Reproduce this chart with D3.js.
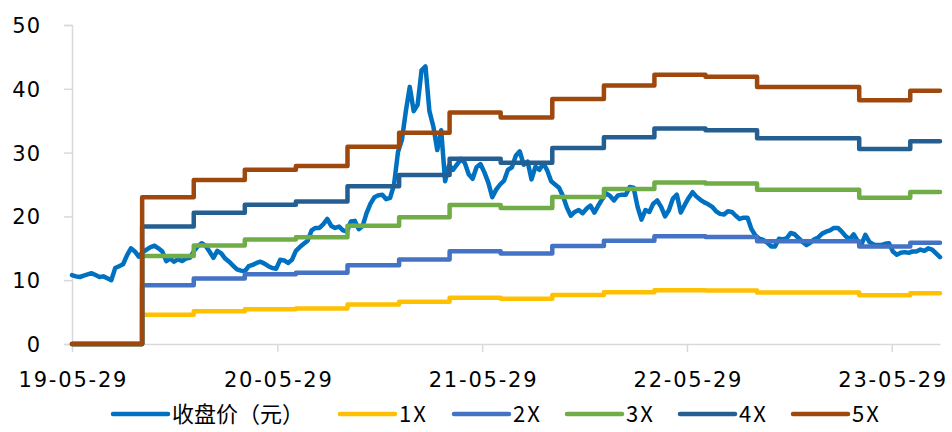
<!DOCTYPE html>
<html>
<head>
<meta charset="utf-8">
<script src="https://cdn.jsdelivr.net/npm/d3@7/dist/d3.min.js"></script>
<style>
  html, body { margin: 0; padding: 0; background: #fff; }
  svg { display: block; }
  .axis-label { font-family: "DejaVu Sans", "Noto Sans", sans-serif; font-size: 21px; fill: #000; }
  .legend-label { font-family: "Noto Sans CJK SC", "Noto Sans", sans-serif; font-size: 22px; fill: #000; }
</style>
</head>
<body>
<svg id="chart" width="952" height="432"></svg>
<script>
// Weekly closing price, starting on priceStart
const priceStart = "2019-05-29";
const closePrice = [
  10.8, 10.6, 10.5, 10.7, 10.9, 11.1, 10.8, 10.5, 10.6, 10.3,
  10.0, 11.9, 12.2, 12.5, 13.9, 15.0, 14.5, 13.7, 14.4, 14.8,
  15.2, 15.4, 15.0, 14.5, 13.0, 13.4, 12.9, 13.3, 13.0, 13.4,
  13.5, 14.5, 15.3, 15.8, 15.4, 14.5, 13.5, 14.6, 14.2, 13.4,
  12.9, 12.3, 11.7, 11.5, 11.4, 12.2, 12.4, 12.7, 12.9, 12.6,
  12.2, 11.9, 11.8, 13.2, 13.1, 12.7, 13.2, 14.6, 15.2, 15.7,
  16.2, 17.8, 18.2, 18.2, 18.8, 19.6, 18.5, 18.2, 18.4, 17.8,
  17.6, 19.2, 19.3, 18.0, 18.5, 20.5, 22.0, 23.0, 23.3, 23.4,
  22.7, 22.9, 25.0, 30.1, 32.0, 36.5, 40.3, 36.5, 37.5, 42.9,
  43.5, 36.5, 34.1, 30.4, 33.5, 25.5, 28.0, 27.3, 28.1, 29.0,
  28.4, 26.6, 25.9, 27.7, 28.2, 26.9, 25.3, 23.0, 24.2, 25.0,
  25.6, 27.3, 27.7, 29.5, 30.2, 28.1, 28.6, 25.8, 27.8, 27.3,
  28.3, 27.2, 25.5, 25.0, 24.5, 23.2, 21.4, 20.1, 20.7, 21.0,
  20.5, 21.2, 21.7, 20.6, 21.7, 22.7, 23.6, 23.2, 22.5, 23.3,
  23.4, 23.4, 24.6, 24.5, 21.5, 19.5, 21.0, 20.7, 22.0, 22.5,
  21.5, 20.0, 21.0, 22.8, 23.4, 20.6, 21.8, 22.9, 23.8, 23.1,
  22.6, 22.2, 21.9, 21.5, 20.8, 20.4, 20.3, 20.8, 20.7, 20.1,
  19.6, 19.8, 19.8, 18.0, 17.0, 16.5, 16.3, 15.9, 15.3, 15.3,
  16.5, 16.4, 16.6, 17.4, 17.2, 16.6, 16.0, 15.5, 15.9, 16.4,
  16.7, 17.3, 17.6, 17.8, 18.2, 18.2, 17.6, 16.9, 16.4, 17.2,
  16.2, 15.6, 17.1, 16.0, 15.6, 15.5, 15.5, 15.7, 15.8, 14.5,
  14.0, 14.3, 14.4, 14.3, 14.5, 14.5, 14.8, 14.6, 15.0, 14.8,
  14.2, 13.6
];

// Dates on which each valuation band level takes effect
const bandDates = [
  "2019-05-29", "2019-10-01", "2020-01-01", "2020-04-01", "2020-07-01",
  "2020-10-01", "2021-01-01", "2021-04-01", "2021-07-01", "2021-10-01",
  "2022-01-01", "2022-04-01", "2022-07-01", "2022-10-01", "2023-01-01",
  "2023-04-01", "2023-07-01"
];
const band1X = [0, 4.6, 5.14, 5.46, 5.58, 6.18, 6.62, 7.26, 7.1, 7.68, 8.1, 8.44, 8.38, 8.06, 8.06, 7.64, 7.94];
const band2X = [0, 9.2, 10.28, 10.92, 11.16, 12.36, 13.24, 14.52, 14.2, 15.36, 16.2, 16.88, 16.76, 16.12, 16.12, 15.28, 15.88];
const band3X = [0, 13.8, 15.42, 16.38, 16.74, 18.54, 19.86, 21.78, 21.3, 23.04, 24.3, 25.32, 25.14, 24.18, 24.18, 22.92, 23.82];
const band4X = [0, 18.4, 20.56, 21.84, 22.32, 24.72, 26.48, 29.04, 28.4, 30.72, 32.4, 33.76, 33.52, 32.24, 32.24, 30.56, 31.76];
const band5X = [0, 23.0, 25.7, 27.3, 27.9, 30.9, 33.1, 36.3, 35.5, 38.4, 40.5, 42.2, 41.9, 40.3, 40.3, 38.2, 39.7];

const seriesNames = ["收盘价（元）", "1X", "2X", "3X", "4X", "5X"];
const seriesColors = ["#0070C0", "#FFC000", "#4472C4", "#70AD47", "#255E91", "#9E480E"];

const yTicks = [0, 10, 20, 30, 40, 50];
const xTickLabels = ["19-05-29", "20-05-29", "21-05-29", "22-05-29", "23-05-29"];

// legend entry left edges (layout)
const legendX = [113, 340, 454, 567, 680, 793];

// ---- drawing ----
const svg = d3.select("#chart");
const parseDay = d3.timeParse("%Y-%m-%d");
const parseTick = d3.timeParse("%y-%m-%d");
const fmtTick = d3.timeFormat("%y-%m-%d");

const start = parseDay(priceStart);
const priceData = closePrice.map((v, i) => ({ date: d3.timeWeek.offset(start, i), v }));
const endDate = priceData[priceData.length - 1].date;

const margin = { left: 72, right: 12, top: 25, bottom: 88 };
const W = 952, H = 432;

const x = d3.scaleTime().domain([start, endDate]).range([margin.left, W - margin.right]);
const y = d3.scaleLinear().domain([0, 50]).range([H - margin.bottom, margin.top]);

const axisColor = "#D9D9D9";

// y axis
const yAxis = svg.append("g")
  .attr("transform", `translate(${margin.left},0)`)
  .call(d3.axisLeft(y).tickValues(yTicks).tickSize(8).tickPadding(23).tickFormat(d3.format("d")));
yAxis.select(".domain").attr("stroke", axisColor).attr("stroke-width", 1.5);
yAxis.selectAll(".tick line").attr("stroke", axisColor).attr("stroke-width", 1.5);
yAxis.selectAll(".tick text").attr("class", "axis-label").attr("font-family", null).attr("font-size", null)
  .attr("dy", "0.36em").style("letter-spacing", "1px");

// x axis
const xAxis = svg.append("g")
  .attr("transform", `translate(0,${y(0)})`)
  .call(d3.axisBottom(x).tickValues(xTickLabels.map(parseTick)).tickSize(8).tickSizeOuter(0)
    .tickPadding(16).tickFormat(fmtTick));
xAxis.select(".domain").attr("stroke", axisColor).attr("stroke-width", 1.5);
xAxis.selectAll(".tick line").attr("stroke", axisColor).attr("stroke-width", 1.5);
xAxis.selectAll(".tick text").attr("class", "axis-label").attr("font-family", null).attr("font-size", null)
  .attr("dy", "0.9em").style("letter-spacing", "1.8px").attr("dx", "0.9px");

// lines
const lineGen = d3.line().x(d => x(d.date)).y(d => y(d.v));
const stepGen = d3.line().x(d => x(d.date)).y(d => y(d.v)).curve(d3.curveStepAfter);

const plot = svg.append("g");

plot.append("path")
  .datum(priceData)
  .attr("fill", "none")
  .attr("stroke", seriesColors[0])
  .attr("stroke-width", 4.5)
  .attr("stroke-linejoin", "round")
  .attr("stroke-linecap", "round")
  .attr("d", lineGen);

const bands = [band1X, band2X, band3X, band4X, band5X];
bands.forEach((vals, k) => {
  const pts = bandDates.map((d, i) => ({ date: parseDay(d), v: vals[i] }));
  pts.push({ date: endDate, v: vals[vals.length - 1] });
  plot.append("path")
    .datum(pts)
    .attr("fill", "none")
    .attr("stroke", seriesColors[k + 1])
    .attr("stroke-width", 4.5)
    .attr("stroke-linejoin", "round")
    .attr("stroke-linecap", "round")
    .attr("d", stepGen);
});

// legend
const legend = svg.append("g").attr("transform", "translate(0,414)");
seriesNames.forEach((name, i) => {
  const lx = legendX[i];
  const g = legend.append("g");
  g.append("line")
    .attr("x1", lx).attr("x2", lx + 55).attr("y1", 0).attr("y2", 0)
    .attr("stroke", seriesColors[i]).attr("stroke-width", 4.5).attr("stroke-linecap", "round");
  g.append("text")
    .attr("class", "legend-label")
    .attr("x", lx + 59).attr("y", 0).attr("dy", "0.35em")
    .style("letter-spacing", i === 0 ? "0px" : "2px")
    .text(name);
});
</script>
</body>
</html>
